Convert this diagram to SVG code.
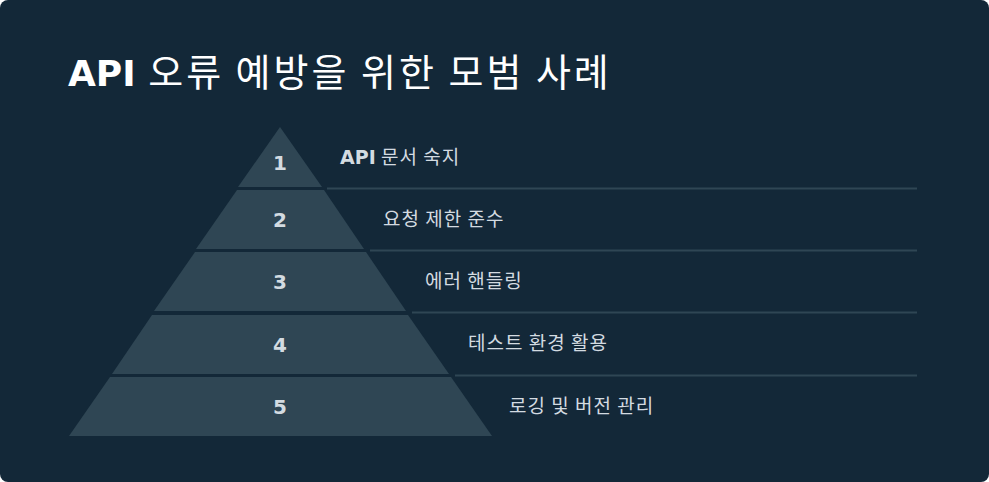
<svg xmlns="http://www.w3.org/2000/svg" width="989" height="482" viewBox="0 0 989 482">
<style>
.layer{fill:#2f4654}
.num{font-family:"DejaVu Sans","Noto Sans CJK KR",sans-serif;font-size:20px;font-weight:bold;fill:#d3dbe1;text-anchor:middle}
.lbl{font-family:"Noto Sans CJK KR","Liberation Sans",sans-serif;font-size:19px;letter-spacing:1px;fill:#d3dbe1}
.conn line{stroke:#2f4654;stroke-width:2}
</style>
<rect x="0" y="0" width="989" height="482" rx="8" fill="#132838"/>
<text x="68" y="86" font-family="DejaVu Sans,Noto Sans CJK KR,sans-serif" font-size="36" font-weight="bold" fill="#ffffff">API <tspan font-weight="normal" font-family="Noto Sans CJK KR,sans-serif" font-size="38" letter-spacing="3">오류 예방을 위한 모범 사례</tspan></text>
<g class="conn">
<line x1="327" y1="188.5" x2="917" y2="188.5"/>
<line x1="370" y1="250.5" x2="917" y2="250.5"/>
<line x1="412" y1="312.5" x2="917" y2="312.5"/>
<line x1="455" y1="375.5" x2="917" y2="375.5"/>
</g>
<g id="layer1"><polygon class="layer" points="280,127 322,187 238,187"/><text class="num" x="280" y="170">1</text><text class="lbl" x="340" y="164"><tspan font-family="DejaVu Sans,sans-serif" font-weight="bold" letter-spacing="0">API</tspan> 문서 숙지</text></g>
<g id="layer2"><polygon class="layer" points="237,190 324,190 364,249 196,249"/><text class="num" x="280" y="227">2</text><text class="lbl" x="383" y="226">요청 제한 준수</text></g>
<g id="layer3"><polygon class="layer" points="195,252 366,252 406,311 154,311"/><text class="num" x="280" y="289">3</text><text class="lbl" x="425" y="288">에러 핸들링</text></g>
<g id="layer4"><polygon class="layer" points="152,315 408,315 449,374 112,374"/><text class="num" x="280" y="352">4</text><text class="lbl" x="468" y="350">테스트 환경 활용</text></g>
<g id="layer5"><polygon class="layer" points="110,377 451,377 492,436 69,436"/><text class="num" x="280" y="414">5</text><text class="lbl" x="509" y="413">로깅 및 버전 관리</text></g>
</svg>
